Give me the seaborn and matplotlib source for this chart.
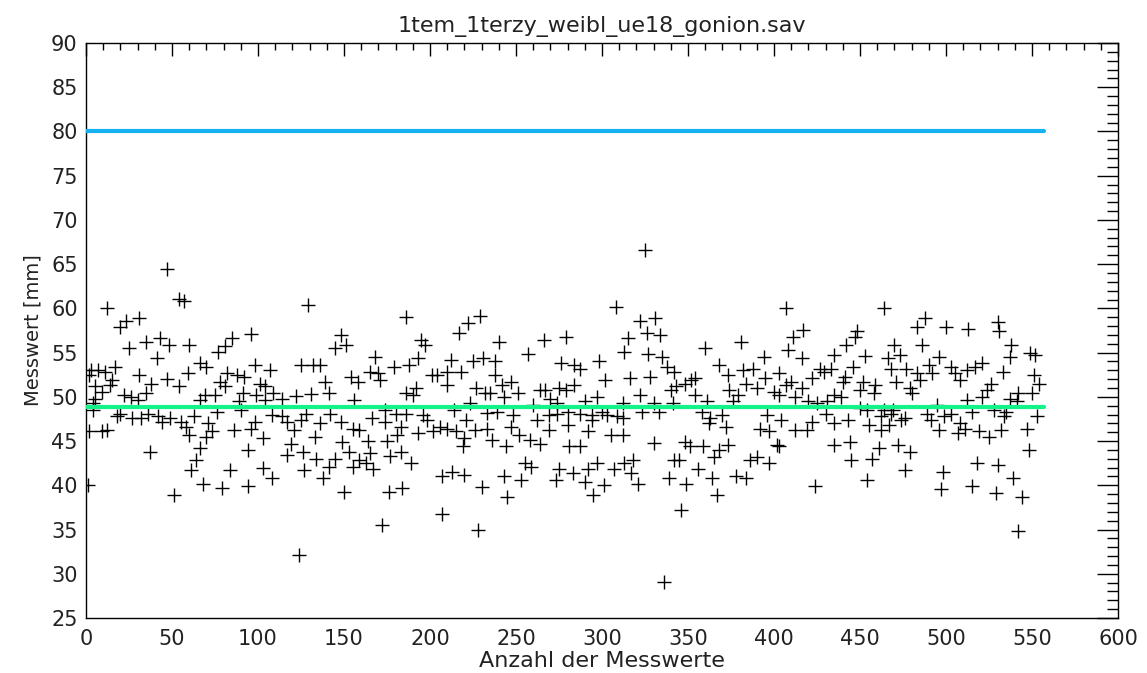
import matplotlib
matplotlib.use("Agg")
import matplotlib.pyplot as plt
from matplotlib.ticker import MultipleLocator
import seaborn as sns
import pandas as pd

# ---- data ----
title = "1tem_1terzy_weibl_ue18_gonion.sav"
x_label = "Anzahl der Messwerte"
y_label = "Messwert [mm]"

pts = [
    # 0-55
    (47,64.5),(12,60.0),(31,58.9),(23,58.6),(20,57.9),(43,56.6),(35,56.2),(48,55.9),(25,55.5),(41,54.4),
    (17,53.4),(3,53.0),(7,53.0),(11,52.8),(31,52.5),(47,52.0),(15,51.9),(38,51.5),(2,52.5),(5,51.2),
    (14,51.3),(9,50.6),(35,50.4),(22,50.2),(26,50.0),(30,49.6),(5,49.8),(4,49.3),(4,48.5),(20,48.1),
    (27,47.6),(32,47.6),(36,48.1),(42,47.8),(44,47.2),(49,47.6),(18,47.8),(2,46.1),(12,46.3),(9,46.1),
    (37,43.8),(1,40.0),(51,38.9),
    # 54-108
    (54,61.1),(57,60.8),(60,55.9),(96,57.1),(85,56.6),(81,55.7),(77,55.1),(66,53.8),(70,53.4),(59,52.7),
    (54,51.2),(98,53.6),(107,53.0),(82,52.7),(88,52.5),(92,52.3),(78,51.7),(81,51.2),(101,51.5),(104,51.2),
    (75,50.2),(69,50.2),(66,49.6),(91,50.4),(99,50.2),(104,49.6),(89,49.5),(76,48.3),(90,48.5),(108,48.0),
    (63,47.8),(55,47.2),(58,46.6),(71,47.0),(73,46.1),(70,45.5),(60,45.7),(86,46.3),(98,47.2),(96,46.4),
    (103,45.3),(66,44.2),(94,44.0),(64,42.9),(61,41.7),(84,41.7),(103,42.0),(108,40.8),(68,40.2),(79,39.7),
    (94,39.9),
    # 109-163
    (129,60.4),(148,57.0),(151,55.9),(145,55.5),(125,53.6),(132,53.6),(136,53.6),(139,51.7),(141,50.4),(131,50.3),
    (122,50.1),(109,50.4),(114,49.8),(154,52.3),(158,51.7),(156,49.6),(114,47.8),(117,47.2),(121,46.3),(125,47.4),
    (128,48.1),(136,47.0),(142,48.1),(148,47.2),(133,45.5),(155,46.4),(159,46.3),(119,44.7),(117,43.4),(126,43.8),
    (134,43.0),(149,44.9),(153,43.8),(159,42.9),(163,42.5),(145,43.0),(141,42.1),(155,42.1),(127,41.7),(138,40.8),
    (150,39.3),(124,32.1),
    # 164-217
    (186,59.0),(217,57.2),(195,56.4),(197,55.9),(168,54.5),(193,54.4),(212,54.2),(188,53.6),(179,53.4),(165,52.8),
    (170,52.7),(171,51.9),(201,52.5),(204,52.5),(210,52.8),(210,51.3),(192,51.0),(186,50.4),(190,50.2),(174,48.5),
    (166,47.6),(180,48.1),(186,48.1),(196,47.9),(214,48.5),(174,47.2),(183,46.6),(198,47.4),(206,46.6),(210,46.4),
    (181,45.7),(193,45.9),(202,46.1),(215,46.1),(164,45.0),(175,45.0),(165,43.7),(177,43.3),(183,43.8),(189,42.5),
    (167,41.9),(207,41.0),(213,41.5),(176,39.3),(184,39.7),(207,36.8),(172,35.5),
    # 218-274
    (229,59.1),(222,58.3),(240,56.2),(266,56.4),(257,54.9),(225,54.0),(231,54.4),(238,54.0),(218,52.8),(238,52.5),
    (247,51.7),(242,51.3),(227,51.0),(232,50.4),(235,50.4),(251,50.4),(264,50.8),(267,50.8),(243,50.0),(270,49.8),
    (223,49.3),(239,48.3),(260,49.1),(233,48.2),(221,47.4),(248,47.9),(262,47.4),(269,47.9),(274,48.1),(226,46.3),
    (233,46.4),(247,46.6),(220,45.3),(252,45.7),(258,45.1),(264,44.7),(269,46.3),(236,45.1),(244,44.4),(219,44.4),
    (255,42.5),(259,42.1),(220,41.2),(243,41.0),(253,40.6),(273,40.6),(230,39.8),(245,38.7),(228,35.0),
    # 274-328
    (325,66.6),(308,60.2),(322,58.6),(326,57.2),(315,56.6),(279,56.8),(313,55.1),(327,54.9),(298,54.0),(276,53.8),
    (284,53.6),(287,53.2),(302,51.9),(316,52.1),(328,52.3),(275,51.0),(279,50.8),(284,51.3),(322,50.2),(297,50.0),
    (290,49.5),(312,49.3),(274,49.3),(280,48.3),(287,48.1),(294,47.9),(300,48.3),(303,47.9),(309,47.8),(312,47.6),
    (323,48.3),(294,47.4),(280,46.8),(292,46.1),(305,45.7),(312,45.7),(281,44.4),(287,44.4),(275,41.8),(283,41.4),
    (292,41.9),(297,42.5),(307,41.9),(313,42.5),(318,42.9),(317,41.4),(290,40.4),(301,40.0),(321,40.2),(295,38.9),
    # 329-383
    (331,58.9),(334,57.0),(381,56.2),(360,55.5),(335,54.5),(338,53.4),(342,52.8),(368,53.6),(373,52.5),(382,53.0),
    (354,52.1),(348,51.5),(343,51.2),(340,50.8),(352,51.9),(374,50.8),(379,50.2),(354,50.2),(361,49.5),(376,49.5),
    (330,49.3),(333,48.3),(341,49.3),(358,48.3),(363,47.6),(370,47.9),(372,46.6),(362,47.0),(330,44.8),(348,44.9),
    (351,44.4),(359,44.4),(368,44.0),(373,44.6),(365,43.2),(342,42.9),(345,42.9),(356,41.9),(339,40.8),(349,40.2),
    (364,40.8),(378,41.0),(367,38.9),(346,37.2),(336,29.1),
    # 384-438
    (407,60.0),(417,57.6),(411,56.8),(408,55.3),(435,54.7),(394,54.5),(416,54.4),(388,53.2),(427,53.2),(429,52.8),
    (433,53.2),(403,52.7),(395,52.1),(384,51.5),(410,51.7),(422,52.1),(407,51.3),(390,51.0),(400,50.6),(416,51.0),
    (403,50.2),(412,50.0),(420,49.5),(435,50.2),(425,49.3),(431,49.5),(396,47.9),(404,47.4),(430,48.1),(435,47.0),
    (392,46.4),(397,46.1),(412,46.3),(419,46.3),(422,47.2),(402,44.6),(403,44.4),(435,44.6),(390,43.2),(386,42.9),
    (397,42.5),(384,40.8),(424,39.9),
    # 439-494
    (464,60.0),(488,58.9),(483,57.9),(448,57.4),(447,56.8),(442,55.9),(470,55.9),(486,55.9),(473,54.7),(453,54.6),
    (466,54.4),(446,53.4),(468,53.2),(477,53.2),(490,53.6),(492,52.7),(483,52.7),(441,52.3),(452,51.7),(471,51.7),
    (485,51.9),(459,51.3),(440,51.7),(450,50.8),(458,50.4),(480,50.4),(479,51.0),(439,50.0),(450,48.7),(454,48.5),
    (464,48.5),(469,48.5),(489,48.1),(443,47.4),(462,47.8),(468,48.1),(474,47.4),(476,47.6),(491,47.4),(455,46.8),
    (467,46.8),(462,46.3),(444,44.9),(461,44.2),(472,44.6),(479,43.8),(445,42.9),(457,43.0),(476,41.7),(454,40.6),
    # 495-555
    (500,57.9),(513,57.7),(530,58.5),(531,57.4),(538,55.9),(549,55.0),(552,54.7),(537,54.5),(496,54.5),(521,53.8),
    (517,53.4),(512,53.0),(503,53.4),(505,52.7),(533,52.8),(508,51.9),(551,52.5),(554,51.5),(526,51.5),(524,50.8),
    (542,50.4),(550,50.4),(521,50.0),(512,49.6),(537,49.8),(541,49.5),(495,49.1),(515,48.3),(528,48.5),(535,48.3),
    (503,48.1),(499,47.8),(534,47.8),(553,47.8),(508,47.0),(511,46.4),(496,46.3),(532,46.3),(519,46.1),(525,45.5),
    (547,46.4),(507,45.9),(548,44.0),(518,42.5),(530,42.3),(498,41.5),(539,40.8),(497,39.6),(515,39.9),(529,39.1),
    (544,38.7),(542,34.8),
]
index_values = [p[0] for p in pts]
measure_values = [p[1] for p in pts]

limit_x = [0, 557]
upper_limit = [80.0, 80.0]
mean_line = [48.9, 48.9]

x_ticks = list(range(0, 601, 50))
y_ticks = list(range(25, 91, 5))

# ---- drawing ----
sns.set_theme(style="white")
plt.rcParams["font.family"] = ["DejaVu Sans"]

fig = plt.figure(figsize=(11.47, 6.73), dpi=100)
ax = fig.add_axes([0.075, 0.0817, 0.8997, 0.8544])

df = pd.DataFrame({"idx": index_values, "val": measure_values})
sns.scatterplot(data=df, x="idx", y="val", marker="+", color="black",
                s=105, linewidth=1.0, ax=ax, zorder=2)

sns.lineplot(x=limit_x, y=upper_limit, color="#16b2f0", linewidth=3.0, ax=ax, zorder=3)
sns.lineplot(x=limit_x, y=mean_line, color="#14f28a", linewidth=3.0, ax=ax, zorder=3)

ax.set_xlim(0, 600)
ax.set_ylim(25, 90)
ax.set_xticks(x_ticks)
ax.set_yticks(y_ticks)
ax.xaxis.set_minor_locator(MultipleLocator(10))
ax.yaxis.set_minor_locator(MultipleLocator(1))

ax.tick_params(which="both", direction="in", top=True, right=True,
               color="black", width=1.0, labelsize=15, labelcolor="#222222")
ax.tick_params(axis="y", which="major", length=15, pad=6)
ax.tick_params(axis="y", which="minor", length=8)
ax.tick_params(axis="x", which="major", length=9, pad=8)
ax.tick_params(axis="x", which="minor", length=5)

for sp in ax.spines.values():
    sp.set_color("black")
    sp.set_linewidth(1.0)
    sp.set_visible(True)

ax.set_title(title, fontsize=16, color="#222222", pad=8)
ax.set_xlabel(x_label, fontsize=16, color="#222222", labelpad=1)
ax.set_ylabel(y_label, fontsize=14, color="#222222", labelpad=6)
ax.grid(False)

fig.savefig("out.png", dpi=100)
